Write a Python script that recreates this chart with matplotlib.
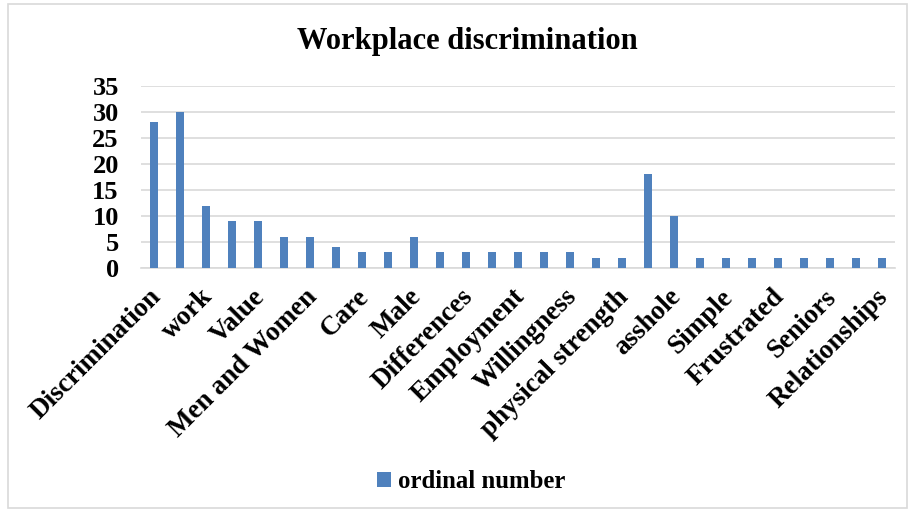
import matplotlib.pyplot as plt
import matplotlib.transforms as mtransforms
from matplotlib.patches import Rectangle

# 29 categories, only every other label is shown in the original chart
labels = ["Discrimination", "", "work", "", "Value", "", "Men and Women", "",
          "Care", "", "Male", "", "Differences", "", "Employment", "",
          "Willingness", "", "physical strength", "", "asshole", "", "Simple", "",
          "Frustrated", "", "Seniors", "", "Relationships"]
values = [28, 30, 12, 9, 9, 6, 6, 4, 3, 3, 6, 3, 3, 3, 3, 3, 3, 2, 2, 18, 10,
          2, 2, 2, 2, 2, 2, 2, 2]
series_name = "ordinal number"
title = "Workplace discrimination"

plt.rcParams['font.family'] = ['Liberation Serif', 'DejaVu Serif']
plt.rcParams['font.weight'] = 'bold'

fig = plt.figure(figsize=(9.12, 5.12), dpi=100)
ax = fig.add_axes([0.1546, 0.4766, 0.8265, 0.3555])

x = list(range(len(values)))
bars = ax.bar(x, values, width=0.31, color='#4F81BD', zorder=3, label=series_name)

ax.set_xlim(-0.5, len(values) - 0.5)
ax.set_ylim(0, 35)
ax.set_yticks(range(0, 36, 5))
ax.yaxis.grid(True, color='#D9D9D9', linewidth=1.2, zorder=0)
ax.set_xticks(x)
ax.set_xticklabels(labels, rotation=45, ha='right', va='center', rotation_mode='anchor',
                   fontsize=19.5, fontweight='bold')
ax.tick_params(axis='x', length=0, pad=16)
ax.tick_params(axis='y', length=0, pad=16, labelsize=19)
# nudge the rotated labels a little right and down
shift = mtransforms.ScaledTranslation(0.03, -0.03, fig.dpi_scale_trans)
for lbl in ax.get_xticklabels():
    lbl.set_transform(lbl.get_transform() + shift)
for s in ['top', 'right', 'left']:
    ax.spines[s].set_visible(False)
ax.spines['bottom'].set_color('#D9D9D9')
ax.spines['bottom'].set_linewidth(1.2)

fig.text(0.513, 0.918, title, ha='center', va='center', fontsize=22, fontweight='bold')

fig.legend(handles=[bars], loc='center', bbox_to_anchor=(0.517, 0.059), frameon=False,
           fontsize=17.8, handlelength=0.55, handleheight=0.55, handletextpad=0.3)

fig.patches.append(Rectangle((0.009, 0.008), 0.985, 0.984, transform=fig.transFigure,
                             fill=False, edgecolor='#D9D9D9', linewidth=1.2))

fig.savefig("out.png", dpi=100)
